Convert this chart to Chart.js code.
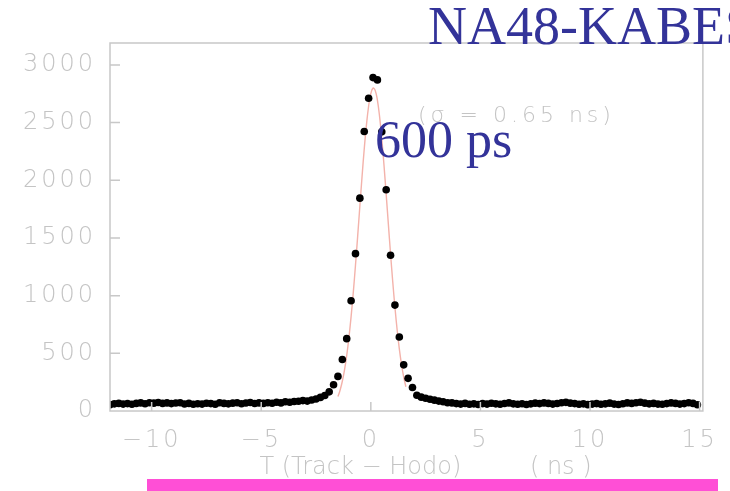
<!DOCTYPE html>
<html>
<head>
<meta charset="utf-8">
<script src="https://cdn.jsdelivr.net/npm/chart.js@4.4.1/dist/chart.umd.min.js"></script>
<style>
  html, body { margin: 0; padding: 0; background: #fff; overflow: hidden; }
  #wrap { position: relative; width: 730px; height: 491px; overflow: hidden; }
  #chart { position: absolute; left: 0; top: 0; }
  .note { position: absolute; white-space: nowrap; line-height: 1; }
  .big { font-family: "Liberation Serif", "Times New Roman", serif; color: #333399; }
  .gray { font-family: "DejaVu Sans", sans-serif; font-weight: 200; font-size: 22px; letter-spacing: 4px; color: #c4c4c4; }
  #bar { position: absolute; left: 147px; top: 479px; width: 571px; height: 12px; background: #ff4fd6; }
</style>
</head>
<body>
<div id="wrap">
  <canvas id="chart" width="730" height="491"></canvas>
  <div class="note gray" style="left:418px; top:104px;">(σ = 0.65 ns)</div>
  <div class="note big" style="left:375px; top:114px; font-size:52px;">600 ps</div>
  <div class="note big" style="left:428px; top:-1px; font-size:54px;">NA48-KABES</div>
  <div id="bar"></div>
</div>
<script>
// time difference bins (ns) and counts per bin
var timeBins = [
  -11.9, -11.7, -11.5, -11.3, -11.1, -10.9, -10.7, -10.5, -10.3, -10.1,
  -9.9, -9.7, -9.5, -9.3, -9.1, -8.9, -8.7, -8.5, -8.3, -8.1,
  -7.9, -7.7, -7.5, -7.3, -7.1, -6.9, -6.7, -6.5, -6.3, -6.1,
  -5.9, -5.7, -5.5, -5.3, -5.1, -4.9, -4.7, -4.5, -4.3, -4.1,
  -3.9, -3.7, -3.5, -3.3, -3.1, -2.9, -2.7, -2.5, -2.3, -2.1,
  -1.9, -1.7, -1.5, -1.3, -1.1, -0.9, -0.7, -0.5, -0.3, -0.1,
  0.1, 0.3, 0.5, 0.7, 0.9, 1.1, 1.3, 1.5, 1.7, 1.9, 2.1,
  2.3, 2.5, 2.7, 2.9, 3.1, 3.3, 3.5, 3.7, 3.9, 4.1,
  4.3, 4.5, 4.7, 4.9, 5.1, 5.3, 5.5, 5.7, 5.9, 6.1,
  6.3, 6.5, 6.7, 6.9, 7.1, 7.3, 7.5, 7.7, 7.9, 8.1,
  8.3, 8.5, 8.7, 8.9, 9.1, 9.3, 9.5, 9.7, 9.9, 10.1,
  10.3, 10.5, 10.7, 10.9, 11.1, 11.3, 11.5, 11.7, 11.9, 12.1,
  12.3, 12.5, 12.7, 12.9, 13.1, 13.3, 13.5, 13.7, 13.9, 14.1,
  14.3, 14.5, 14.7, 14.9
];
var counts = [
  55, 62, 66, 60, 64, 58, 66, 70, 63, 72,
  68, 74, 66, 70, 64, 69, 72, 61, 66, 58,
  63, 60, 67, 64, 58, 71, 66, 62, 68, 72,
  63, 69, 74, 65, 70, 66, 72, 67, 76, 70,
  80, 76, 82, 84, 90, 86, 96, 104, 118, 134,
  166, 228, 300, 446, 627, 956, 1364, 1845, 2423, 2711,
  2890, 2870, 2420, 1918, 1350, 918, 641, 400, 283, 204, 137,
  120, 110, 102, 94, 86, 80, 72, 70, 64, 60,
  66, 58, 62, 56, 64, 60, 67, 62, 58, 65,
  70, 62, 58, 63, 56, 62, 68, 64, 70, 66,
  60, 65, 72, 75, 68, 64, 58, 62, 55, 60,
  64, 58, 62, 68, 60, 56, 63, 70, 66, 72,
  76, 68, 62, 66, 60, 58, 64, 70, 66, 60,
  64, 72, 66, 54
];

// gaussian fit curve
var fitX = [
  -1.5, -1.4, -1.3, -1.2, -1.1, -1.0, -0.9, -0.8, -0.7, -0.6,
  -0.5, -0.4, -0.3, -0.2, -0.1, 0.0, 0.1, 0.2, 0.3, 0.4,
  0.5, 0.6, 0.7, 0.8, 0.9, 1.0, 1.1, 1.2, 1.3, 1.4, 1.5, 1.6
];
var fitY = [
  125, 182, 258, 356, 481, 635, 818, 1028, 1264, 1516,
  1777, 2033, 2273, 2480, 2644, 2752, 2799, 2779, 2695, 2552,
  2360, 2132, 1880, 1620, 1363, 1120, 899, 704, 539, 403, 294, 210
];

var xTicks = [-10, -5, 0, 5, 10, 15];
var yTicks = [0, 500, 1000, 1500, 2000, 2500, 3000];
var xTitle = "     T (Track \u2212 Hodo)         ( ns )";

var gray = "#c4c4c4";
var frameGray = "#c8c8c8";

var points = timeBins.map(function (t, i) { return { x: t, y: counts[i] }; });
var fitPts = fitX.map(function (t, i) { return { x: t, y: fitY[i] }; });

function minusLabel(v) {
  return v < 0 ? "\u2212" + Math.abs(v) : String(v);
}

// frame box + inward tick marks; wide spacing only for the tick labels
var framePlugin = {
  id: "frame",
  beforeDraw: function (chart) {
    chart.ctx.letterSpacing = "0px";
  },
  afterDatasetsDraw: function (chart) {
    chart.ctx.letterSpacing = "3px";
  },
  afterDraw: function (chart) {
    var ctx = chart.ctx, a = chart.chartArea;
    var xs = chart.scales.x, ys = chart.scales.y;
    ctx.letterSpacing = "0px";
    ctx.save();
    ctx.strokeStyle = frameGray;
    ctx.lineWidth = 1.5;
    ctx.strokeRect(a.left, a.top, a.right - a.left, a.bottom - a.top);
    ctx.beginPath();
    yTicks.forEach(function (v) {
      if (v === 0) return;
      var py = ys.getPixelForValue(v);
      ctx.moveTo(a.left, py);
      ctx.lineTo(a.left + 10, py);
    });
    xTicks.forEach(function (v) {
      var px = xs.getPixelForValue(v);
      ctx.moveTo(px, a.bottom);
      ctx.lineTo(px, a.bottom - 9);
    });
    ctx.stroke();
    ctx.restore();
  }
};

var ctx = document.getElementById("chart").getContext("2d");
new Chart(ctx, {
  type: "scatter",
  data: {
    datasets: [
      {
        label: "fit",
        data: fitPts,
        showLine: true,
        borderColor: "#f3b2aa",
        borderWidth: 1.4,
        pointRadius: 0,
        tension: 0.4,
        order: 2
      },
      {
        label: "counts",
        data: points,
        showLine: false,
        pointRadius: 3.8,
        pointBackgroundColor: "#000",
        pointBorderColor: "#000",
        pointBorderWidth: 0,
        order: 1
      }
    ]
  },
  options: {
    responsive: false,
    animation: false,
    devicePixelRatio: 1,
    layout: { padding: { top: 43, right: 24, left: 0, bottom: 0 } },
    plugins: { legend: { display: false }, tooltip: { enabled: false } },
    scales: {
      x: {
        type: "linear",
        min: -11.9,
        max: 15.15,
        afterBuildTicks: function (s) { s.ticks = xTicks.map(function (v) { return { value: v }; }); },
        afterFit: function (s) { s.height = 80; },
        grid: { display: false, drawTicks: false },
        border: { display: false },
        ticks: {
          z: 1,
          padding: 15,
          color: gray,
          font: { family: "DejaVu Sans", size: 24, weight: 200 },
          maxRotation: 0,
          autoSkip: false,
          callback: function (v) { return minusLabel(v); }
        },
        title: {
          display: true,
          text: xTitle,
          color: gray,
          font: { family: "DejaVu Sans", size: 24, weight: 200 },
          padding: { top: 0, bottom: 9 }
        }
      },
      y: {
        min: 0,
        max: 3190,
        afterBuildTicks: function (s) { s.ticks = yTicks.map(function (v) { return { value: v }; }); },
        afterFit: function (s) { s.width = 110; },
        grid: { display: false, drawTicks: false },
        border: { display: false },
        ticks: {
          z: 1,
          padding: 14,
          color: gray,
          font: { family: "DejaVu Sans", size: 24, weight: 200 },
          callback: function (v) { return String(v); }
        }
      }
    }
  },
  plugins: [framePlugin]
});
</script>
</body>
</html>
